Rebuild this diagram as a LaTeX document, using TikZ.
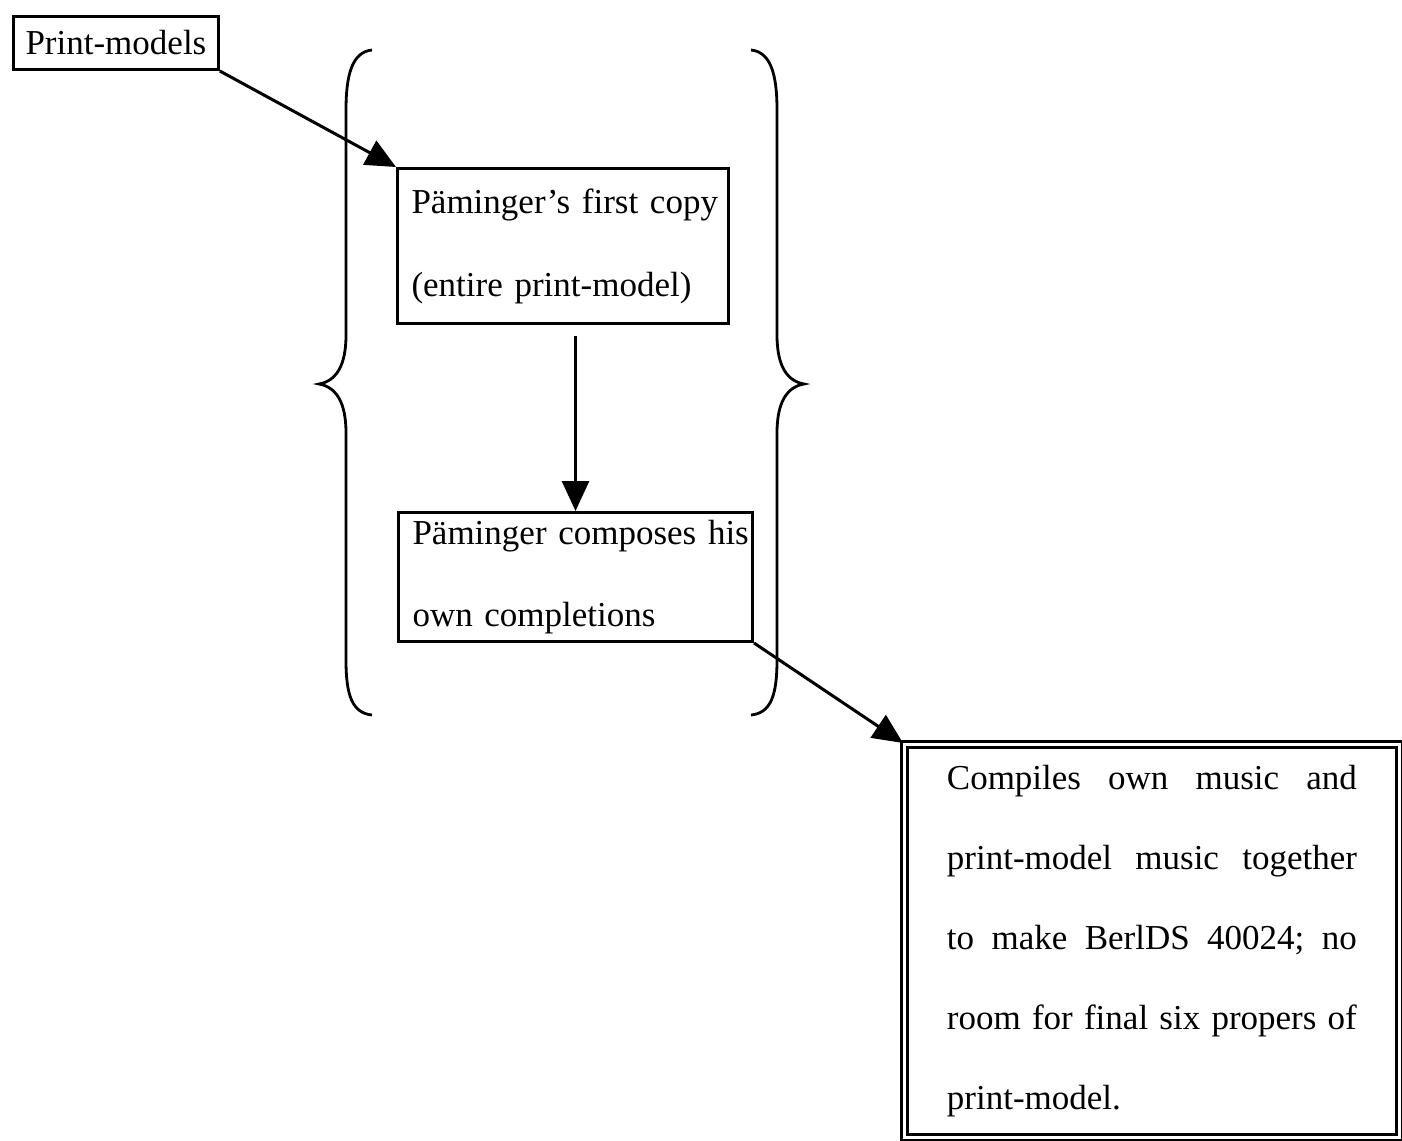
\documentclass[tikz,border=0pt]{standalone}
\usepackage{fontspec}
\setmainfont{Liberation Serif}
\usetikzlibrary{arrows.meta}
% one line of text in a box of fixed width; overlong lines may stick out
\newcommand{\fixline}[2]{\makebox[#1][l]{#2}}
% one fully justified line
\newcommand{\fullline}[1]{\leavevmode\hbox to 410pt{#1}}
\begin{document}
\begin{tikzpicture}[x=1pt,y=-1pt,
  box/.style={draw,line width=3pt,rectangle,inner ysep=0pt,align=left,anchor=north west},
  flow/.style={line width=3pt,-{Triangle[length=30pt,width=27pt]}},
  brace/.style={line width=2.8pt}]
\useasboundingbox (0,0) rectangle (1402,1140);

% source box
\node[box,inner xsep=12pt,minimum height=53pt,font=\fontsize{35}{40}\selectfont] (pm) at (12,15) {Print-models};

% copying stage
\node[box,inner xsep=14pt,text width=303pt,minimum height=155pt,
      font=\fontsize{35}{83}\selectfont] (b1) at (396,167)
  {\fixline{303pt}{Päminger’s first copy}\\\fixline{303pt}{(entire print-model)}};
\node[box,inner xsep=14pt,text width=326pt,minimum height=129pt,
      font=\fontsize{35}{82}\selectfont] (b2) at (397,511)
  {\fixline{326pt}{Päminger composes his}\\\fixline{326pt}{own completions}};

% final compilation, double frame
\node[draw,double,double distance=3.5pt,line width=2.8pt,rectangle,anchor=north west,
      minimum width=495pt,minimum height=393pt,text width=410pt,inner sep=0pt,
      font=\fontsize{35}{80}\selectfont,align=left] (b3) at (903,743)
  {\fullline{Compiles\hfill own\hfill music\hfill and}\\
   \fullline{print-model\hfill music\hfill together}\\
   \fullline{to\hfill make\hfill BerlDS\hfill 40024;\hfill no}\\
   \fullline{room\hfill for\hfill final\hfill six\hfill propers\hfill of}\\
   print-model.};

% connectors
\draw[flow] (pm.south east) -- (b1.north west);
\draw[flow] ([yshift=-11pt]b1.south -| b2.north) -- (b2.north);
\draw[flow] (b2.south east) -- (b3.north west);

% braces enclosing the two middle stages
\draw[brace] (372,50) .. controls (352,52) and (346,75) .. (346,110) -- (346,335)
  .. controls (346,366) and (336,381) .. (319,384)
  .. controls (336,387) and (346,402) .. (346,433) -- (346,660)
  .. controls (346,695) and (352,713) .. (372,715);
\draw[brace] (751,50) .. controls (771,52) and (777,75) .. (777,110) -- (777,335)
  .. controls (777,366) and (787,381) .. (804,384)
  .. controls (787,387) and (777,402) .. (777,433) -- (777,660)
  .. controls (777,695) and (771,713) .. (751,715);
\end{tikzpicture}
\end{document}
